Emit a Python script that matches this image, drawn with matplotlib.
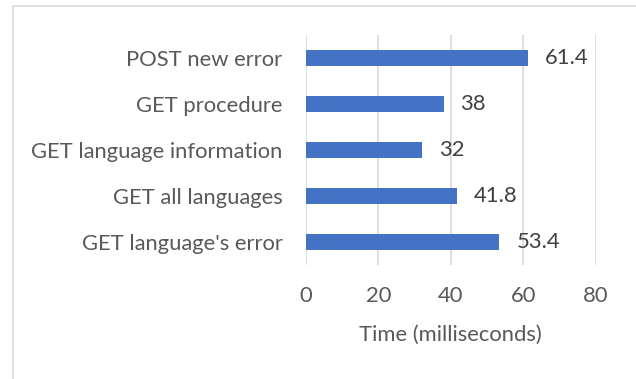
import matplotlib
matplotlib.use("Agg")
import matplotlib.pyplot as plt
from matplotlib.patches import Rectangle

# endpoint response times, top to bottom as listed
endpoints = ["POST new error", "GET procedure", "GET language information",
             "GET all languages", "GET language's error"]
times = [61.4, 38, 32, 41.8, 53.4]
xticks = [0, 20, 40, 60, 80]

plt.rcParams['font.family'] = ['Lato', 'DejaVu Sans']
text_col = '#595959'
fs = 15.8

fig = plt.figure(figsize=(6.36, 3.79), dpi=100)
W, H = 636, 379
ax = fig.add_axes([306 / W, 1 - 265 / H, (595.5 - 306) / W, 230 / H])

# outer chart border, cut off at the right and bottom
fig.patches.append(Rectangle((13 / W, -0.1), 1.2, 1 - 6 / H + 0.1,
                             transform=fig.transFigure, fill=False,
                             edgecolor='#d9d9d9', linewidth=1.2))

ypos = list(range(len(endpoints)))[::-1]
ax.barh(ypos, times, height=0.35, color='#4472C4', zorder=3)
for y, v in zip(ypos, times):
    ax.text(v + 4.7, y, f"{v:g}", va='center', ha='left', fontsize=fs,
            color='#404040')

ax.set_xlim(0, 80)
ax.set_ylim(-0.5, len(endpoints) - 0.5)
ax.set_xticks(xticks)
ax.set_yticks(ypos)
ax.set_yticklabels(endpoints)
ax.grid(axis='x', color='#d9d9d9', linewidth=1.2, zorder=0)
for s in ax.spines.values():
    s.set_visible(False)
ax.tick_params(length=0, labelsize=fs, colors=text_col)
ax.tick_params(axis='x', pad=15)
ax.tick_params(axis='y', pad=17)
ax.set_xlabel("Time (milliseconds)", fontsize=fs, color=text_col, labelpad=14)

fig.savefig("out.png", dpi=100)
